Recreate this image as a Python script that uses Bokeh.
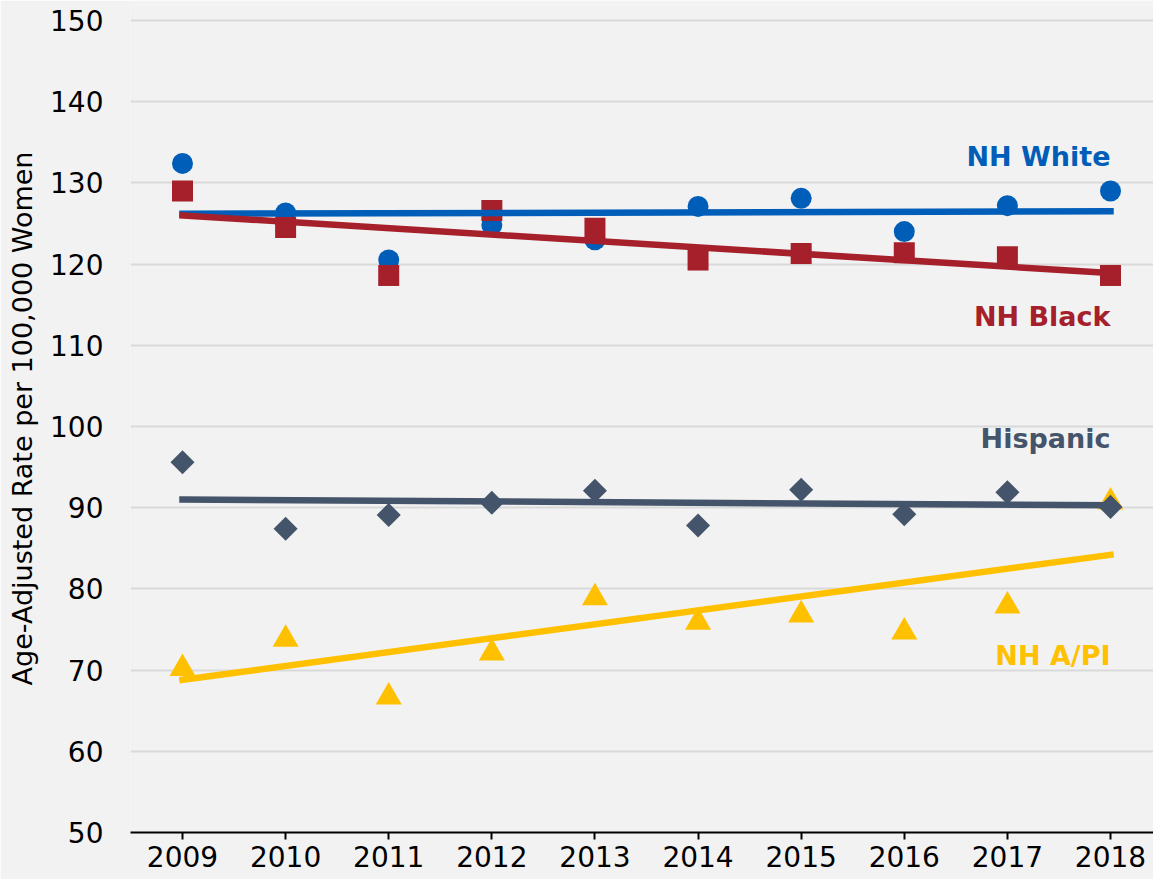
import math
from bokeh.plotting import figure
from bokeh.models import Range1d, FixedTicker, ColumnDataSource
from bokeh.core.properties import value
from bokeh.embed import file_html
from bokeh.resources import INLINE

years = [2009, 2010, 2011, 2012, 2013, 2014, 2015, 2016, 2017, 2018]
nh_white = [132.4, 126.3, 120.5, 124.8, 123.0, 127.1, 128.1, 124.0, 127.2, 129.0]
nh_black = [129.0, 124.5, 118.6, 126.6, 124.4, 120.5, 121.3, 121.4, 120.9, 118.6]
hispanic = [95.6, 87.4, 89.1, 90.6, 92.1, 87.8, 92.2, 89.2, 91.9, 90.1]
nh_api = [70.2, 73.8, 66.7, 72.1, 78.9, 75.9, 76.8, 74.7, 77.9, 90.7]

trend_years = [2009, 2018]
white_trend = [126.2, 126.5]
black_trend = [126.0, 118.9]
hisp_trend = [91.0, 90.3]
api_trend = [68.8, 84.2]

series_names = ["NH White", "NH Black", "Hispanic", "NH A/PI"]
label_x = [2018, 2018, 2018, 2018]
label_y = [133.25, 113.55, 98.5, 71.8]
colors = ["#005EB8", "#A6202B", "#44546A", "#FFC000"]

y_ticks = [50, 60, 70, 80, 90, 100, 110, 120, 130, 140, 150]
y_label = "Age-Adjusted Rate per 100,000 Women"

BG = "#F2F2F2"
FONT = "DejaVu Sans"

p = figure(width=1153, height=879, output_backend="svg", toolbar_location=None,
           x_range=Range1d(2008.4957, 2018.417), y_range=Range1d(50, 151.97),
           min_border_left=130, min_border_right=0, min_border_top=4, min_border_bottom=47,
           background_fill_color=BG, border_fill_color=BG, outline_line_color=None)

p.xgrid.grid_line_color = None
p.ygrid.grid_line_color = "#D9D9D9"
p.ygrid.grid_line_width = 2
p.ygrid.ticker = FixedTicker(ticks=y_ticks)

p.xaxis.ticker = FixedTicker(ticks=years)
p.xaxis.axis_line_color = "black"
p.xaxis.axis_line_width = 2
p.xaxis.major_tick_line_color = "black"
p.xaxis.major_tick_line_width = 2
p.xaxis.major_tick_out = 7
p.xaxis.major_tick_in = 0
p.xaxis.minor_tick_line_color = None
p.xaxis.major_label_standoff = 6
p.xaxis.major_label_text_font = FONT
p.xaxis.major_label_text_font_size = "28px"
p.xaxis.major_label_text_color = "black"

p.yaxis.ticker = FixedTicker(ticks=y_ticks)
p.yaxis.axis_line_color = None
p.yaxis.major_tick_line_color = None
p.yaxis.minor_tick_line_color = None
p.yaxis.major_tick_out = 0
p.yaxis.major_tick_in = 0
p.yaxis.major_label_standoff = 27
p.yaxis.major_label_text_font = FONT
p.yaxis.major_label_text_font_size = "28px"
p.yaxis.major_label_text_color = "black"
p.yaxis.axis_label = y_label
p.yaxis.axis_label_text_font = FONT
p.yaxis.axis_label_text_font_size = "27px"
p.yaxis.axis_label_text_font_style = "normal"
p.yaxis.axis_label_text_color = "black"
p.yaxis.axis_label_standoff = 9

# markers
p.scatter(years, nh_white, marker="circle", size=21, fill_color=colors[0], line_color=None)
p.scatter(years, nh_black, marker="square", size=21, fill_color=colors[1], line_color=None)
p.scatter(years, nh_api, marker="triangle", size=26, fill_color=colors[3], line_color=None)
p.scatter(years, hispanic, marker="square", angle=math.pi / 4, size=17,
          fill_color=colors[2], line_color=None)

# trend lines
for ty, c in zip([white_trend, black_trend, api_trend, hisp_trend],
                 [colors[0], colors[1], colors[3], colors[2]]):
    p.line(trend_years, ty, line_color=c, line_width=6.5, line_cap="square")

src = ColumnDataSource(dict(x=label_x, y=label_y, t=series_names, c=colors))
p.text(x="x", y="y", text="t", text_color="c", source=src,
       text_font=value(FONT), text_font_size="27px", text_font_style="bold",
       text_align="right", text_baseline="middle")

open("out.html", "w").write(file_html(p, INLINE))
